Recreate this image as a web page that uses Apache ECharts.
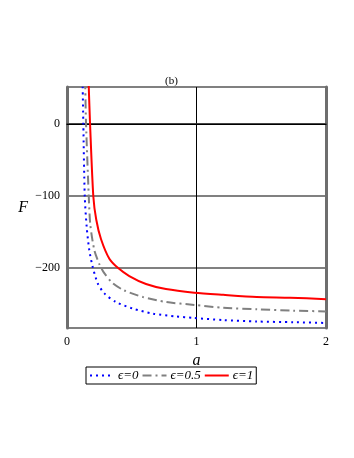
<!DOCTYPE html>
<html>
<head>
<meta charset="utf-8">
<script src="https://cdn.jsdelivr.net/npm/echarts@6/dist/echarts.min.js"></script>
<style>
html, body { margin: 0; padding: 0; background: #fff; }
#main { width: 354px; height: 458px; }
</style>
</head>
<body>
<div id="main"></div>
<script>
// points: [a, F]
var eps0 = [[0.120, 60], [0.121, 51], [0.126, 0], [0.137, -100], [0.152, -143], [0.172, -175], [0.198, -198],
	[0.237, -221], [0.288, -235], [0.378, -247], [0.507, -256], [0.662, -263], [0.842, -267],
	[0.971, -269], [1.207, -272], [1.465, -274], [1.75, -275], [2.0, -276]];
var eps05 = [[0.140, 60], [0.141, 51], [0.147, 0], [0.168, -100], [0.180, -140], [0.211, -175], [0.249, -194],
	[0.288, -207], [0.353, -221], [0.442, -231], [0.585, -240], [0.764, -247], [0.983, -251],
	[1.207, -255], [1.465, -257], [1.75, -259], [2.0, -260]];
var eps1 = [[0.166, 60], [0.168, 51], [0.178, 0], [0.203, -100], [0.226, -133], [0.263, -160], [0.327, -187],
	[0.395, -200], [0.481, -211], [0.610, -222], [0.764, -229], [0.983, -234], [1.207, -237],
	[1.465, -240], [1.722, -241], [2.0, -243]];
var seriesNames = ['ϵ=0', 'ϵ=0.5', 'ϵ=1'];

var serif = '"Liberation Serif", "DejaVu Serif", serif';
var chart = echarts.init(document.getElementById('main'));
var option = {
	animation: false,
	backgroundColor: '#fff',
	title: {
		text: '(b)',
		left: 160,
		top: 71,
		textStyle: { fontFamily: serif, fontSize: 11, fontWeight: 'normal', color: '#000' }
	},
	legend: {
		data: seriesNames,
		left: 86,
		top: 367,
		orient: 'horizontal',
		borderColor: '#000',
		borderWidth: 1,
		padding: [2, 3],
		itemWidth: 24,
		itemHeight: 10,
		itemGap: 3,
		itemStyle: { opacity: 0 },
		textStyle: { fontFamily: serif, fontSize: 13, fontStyle: 'italic', color: '#000', padding: [0, 0, 0, -1] }
	},
	grid: {
		left: 67, right: 28, top: 87, bottom: 130,
		show: true, borderColor: '#999', borderWidth: 1
	},
	xAxis: [{
		type: 'value',
		min: 0, max: 2, interval: 1,
		name: 'a',
		nameLocation: 'middle',
		nameGap: 20,
		nameTextStyle: { fontFamily: serif, fontSize: 16, fontStyle: 'italic', color: '#000' },
		axisLine: { show: true, lineStyle: { color: '#333', width: 1.5 } },
		axisTick: { show: false },
		axisLabel: { fontFamily: serif, fontSize: 12, color: '#000', margin: 8 },
		splitLine: { show: true, lineStyle: { color: '#000', width: 1 } }
	}, {
		// black line at F = 0
		type: 'value',
		min: 0, max: 2,
		position: 'bottom',
		axisLine: { show: true, onZero: true, lineStyle: { color: '#000', width: 1 } },
		axisTick: { show: false },
		axisLabel: { show: false },
		splitLine: { show: false }
	}],
	yAxis: [{
		type: 'value',
		min: -283, max: 51,
		splitNumber: 3,
		name: 'F',
		nameLocation: 'middle',
		nameRotate: 0,
		nameGap: 39,
		nameTextStyle: { fontFamily: serif, fontSize: 16, fontStyle: 'italic', color: '#000' },
		axisLine: { show: true, onZero: false, lineStyle: { color: '#6e6e6e', width: 3 } },
		axisTick: { show: false },
		axisLabel: {
			fontFamily: serif, fontSize: 12, color: '#000', margin: 7,
			showMinLabel: false, showMaxLabel: false,
			formatter: function (v) {
				if (v % 100 !== 0) return '';
				return String(v).replace('-', '\u2212');
			}
		},
		splitLine: { show: true, lineStyle: { color: '#808080', width: 2 } }
	}, {
		type: 'value',
		min: -283, max: 51,
		position: 'right',
		axisLine: { show: true, onZero: false, lineStyle: { color: '#6e6e6e', width: 3 } },
		axisTick: { show: false },
		axisLabel: { show: false },
		splitLine: { show: false }
	}],
	series: [{
		name: seriesNames[0],
		type: 'line',
		data: eps0,
		smooth: 0.25,
		symbol: 'none',
		clip: true,
		lineStyle: { color: '#0000ff', width: 2, type: [2, 4] },
		itemStyle: { color: '#0000ff' }
	}, {
		name: seriesNames[1],
		type: 'line',
		data: eps05,
		smooth: 0.25,
		symbol: 'none',
		clip: true,
		lineStyle: { color: '#808080', width: 2, type: [9, 4, 2, 4] },
		itemStyle: { color: '#808080' }
	}, {
		name: seriesNames[2],
		type: 'line',
		data: eps1,
		smooth: 0.25,
		symbol: 'none',
		clip: true,
		lineStyle: { color: '#ff0000', width: 2 },
		itemStyle: { color: '#ff0000' }
	}]
};
chart.setOption(option);
</script>
</body>
</html>
